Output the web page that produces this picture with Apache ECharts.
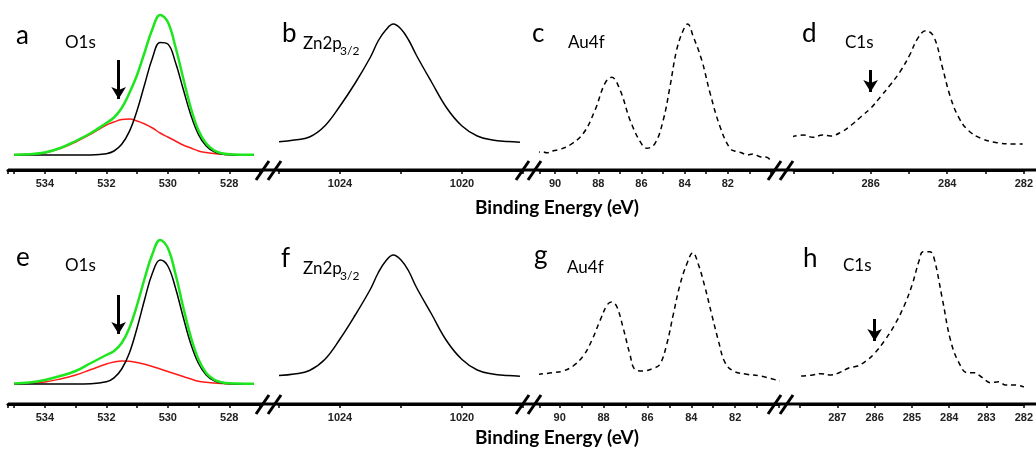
<!DOCTYPE html>
<html>
<head>
<meta charset="utf-8">
<script src="https://cdn.jsdelivr.net/npm/echarts@6/dist/echarts.min.js"></script>
<style>
  html, body { margin: 0; padding: 0; background: #fff; }
  #chartmain { width: 1036px; height: 450px; }
</style>
</head>
<body>
<div id="chartmain"></div>
<script>
// O1s (a / e): energies shared by the three curves
var o1sEnergy = [535, 534.5, 534, 533.5, 533, 532.5, 532, 531.75, 531.5, 531.25, 531, 530.75, 530.5, 530.25, 530, 529.75, 529.5, 529.25, 529, 528.75, 528.5, 528.25, 528, 527.2];
var aTotal  = [0.3, 0.8, 2.5, 7, 14, 22, 32, 37.5, 47, 62, 80, 103, 126, 140, 133, 108, 77, 47, 24.4, 11.4, 4.8, 1.8, 0.8, 0.2];
var aLattice = [0, 0, 0, 0, 0, 0.1, 1.3, 4, 10.7, 23.6, 44.5, 71, 97, 112.5, 111, 92.5, 66, 40, 20.4, 8.9, 3.3, 1, 0.3, 0];
var aDefect = [0.3, 0.8, 2, 6.5, 13, 21, 30, 33, 35.5, 36, 34, 31, 27, 22, 18, 14, 10, 7, 4, 2.5, 1.5, 0.8, 0.5, 0.1];
var eTotal  = [0.5, 1.5, 4, 8, 13, 21, 29, 33, 41, 56, 79, 106, 130, 144, 136, 110, 77, 47, 24.5, 11, 4.5, 1.8, 0.7, 0.2];
var eLattice = [0, 0, 0, 0, 0, 0.2, 2.2, 6.2, 15, 31, 56, 85, 111, 124, 118, 96, 67, 40, 20.5, 9, 3.4, 1.1, 0.3, 0];
var eDefect = [0.3, 0.8, 2, 5, 9, 14.5, 20, 22, 23, 22.7, 21.5, 19.7, 17.5, 15, 12.5, 10, 7.5, 5, 2.8, 1.8, 1, 0.5, 0.3, 0];

// Zn2p3/2 (b / f)
var znEnergy = [1026, 1025.5, 1025, 1024.5, 1024, 1023.5, 1023, 1022.75, 1022.5, 1022.25, 1022, 1021.75, 1021.5, 1021, 1020.5, 1020, 1019.5, 1019, 1018.5, 1018.1];
var bCounts = [1.3, 3, 6, 17, 37, 60, 86, 102, 113, 119, 114, 103, 88, 61, 35, 17, 7, 3, 1.5, 0.8];
var fCounts = [1.5, 3, 6.5, 17.5, 38, 62, 88, 104, 116, 122, 117, 106, 90, 63, 36, 17.5, 7, 3, 1.5, 0.8];

// Au4f (c / g)
var cEnergy = [90.93, 90.62, 90.38, 90.08, 89.77, 89.31, 88.69, 88.15, 87.69, 87.38, 86.99, 86.53, 86.06, 85.75, 85.37, 84.99, 84.68, 84.37, 84.06, 83.86, 83.6, 83.21, 82.82, 82.36, 81.9, 81.59, 81.36, 81.13, 80.82, 80.51, 80.2, 79.97];
var cCounts = [16.7, 18.3, 17.3, 19.3, 20.7, 25, 36.7, 60, 86.7, 92.7, 80, 50, 28.3, 21.7, 26.7, 50, 83.3, 120, 140, 146, 133.3, 110, 76.7, 43.3, 21.7, 18.3, 17.3, 15, 16, 13.3, 12.7, 8.3];
var gEnergy = [90.99, 90.31, 89.85, 89.39, 88.93, 88.55, 88.17, 87.84, 87.64, 87.41, 87.11, 86.8, 86.57, 86.19, 85.73, 85.43, 85.12, 84.82, 84.51, 84.21, 83.93, 83.68, 83.37, 83.07, 82.76, 82.46, 82.08, 81.47, 80.86, 79.97];
var gCounts = [29.7, 31.3, 33, 38, 48, 63, 83, 99, 102, 98, 76.3, 49.7, 34.7, 33, 35.7, 39.7, 59.7, 89.7, 119.7, 139.7, 151.3, 139.7, 116.3, 89.7, 63, 41.3, 33, 29.7, 28, 23];

// C1s (d / h)
var dEnergy = [288.06, 287.76, 287.51, 287.26, 287.05, 286.75, 286.5, 286.25, 286.0, 285.74, 285.49, 285.23, 284.98, 284.77, 284.56, 284.35, 284.13, 283.92, 283.71, 283.46, 283.12, 282.7, 282.28, 282.03];
var dCounts = [33.3, 35, 32.7, 35, 34, 38.3, 45, 53.3, 61.7, 73.3, 85, 98.3, 115, 131.7, 139.3, 133.3, 103.3, 73.3, 53.3, 40, 31.7, 27.3, 26, 26];
var hEnergy = [287.97, 287.66, 287.44, 287.17, 286.95, 286.68, 286.46, 286.23, 286.01, 285.74, 285.48, 285.21, 284.99, 284.81, 284.7, 284.52, 284.41, 284.19, 283.96, 283.74, 283.52, 283.34, 283.11, 282.89, 282.67, 282.49, 282.22, 282.0];
var hCounts = [28, 29, 30.3, 29, 31.3, 36.3, 38, 43, 50.3, 63, 78, 98, 119.7, 143, 152.3, 152.3, 146.3, 106.3, 63, 41.3, 31.3, 31.3, 26.3, 21.3, 22.3, 19, 19, 17];

// arrows: [energy, from, to]
var arrowA = [531.6, 95, 56];
var arrowD = [286, 100, 78];
var arrowE = [531.6, 89, 50];
var arrowH = [286, 85, 63];

function pairs(xs, ys) {
	var out = [];
	for (var i = 0; i < xs.length; i++) {
		out.push([xs[i], ys[i]]);
	}
	return out;
}

var tickFont = { fontFamily: 'Liberation Sans', fontWeight: 'bold', fontSize: 11, color: '#222' };

// one grid per panel (hide = end value that carries no label)
var panels = [
	{ left: 8,   top: 8,   width: 252, min: 527,  max: 535.2, step: 1, label: 2, hide: null, yMin: -15, yMax: 147 },
	{ left: 279, top: 8,   width: 244, min: 1018, max: 1026,  step: 2, label: 4, hide: null, yMin: -27, yMax: 135 },
	{ left: 540, top: 8,   width: 231, min: 80,   max: 90.7,  step: 1, label: 2, hide: 80,   yMin: 0,   yMax: 162 },
	{ left: 794, top: 8,   width: 237, min: 282,  max: 288,   step: 1, label: 2, hide: 288,  yMin: 0,   yMax: 162 },
	{ left: 8,   top: 242, width: 252, min: 527,  max: 535.2, step: 1, label: 2, hide: null, yMin: -20, yMax: 142 },
	{ left: 279, top: 242, width: 244, min: 1018, max: 1026,  step: 2, label: 4, hide: null, yMin: -27, yMax: 135 },
	{ left: 540, top: 242, width: 239, min: 80,   max: 90.9,  step: 1, label: 2, hide: 80,   yMin: 0,   yMax: 162 },
	{ left: 800, top: 242, width: 225, min: 282,  max: 288,   step: 1, label: 1, hide: 288,  yMin: 0,   yMax: 162 }
];

var grid = [], xAxis = [], yAxis = [];
panels.forEach(function(p, i) {
	grid.push({ left: p.left, top: p.top, width: p.width, height: 162 });
	xAxis.push({
		type: 'value', gridIndex: i, inverse: true,
		min: p.min, max: p.max, interval: p.step,
		splitLine: { show: false },
		axisLine: { show: true, onZero: false, lineStyle: { color: '#000', width: 3 } },
		axisTick: { show: true, length: 4, lineStyle: { color: '#000', width: 1.5 } },
		axisLabel: Object.assign({
			margin: 8,
			showMinLabel: true, showMaxLabel: true,
			formatter: (function(lbl, hide) {
				return function(v) {
					if (Math.abs(v - Math.round(v)) > 1e-6) return '';
					var r = Math.round(v);
					if (r === hide) return '';
					return (r % lbl === 0) ? String(r) : '';
				};
			})(p.label, p.hide)
		}, tickFont)
	});
	yAxis.push({ type: 'value', gridIndex: i, min: p.yMin, max: p.yMax, show: false, splitLine: { show: false } });
});

function line(idx, data, color, width, dashed, arrow) {
	var s = {
		type: 'line', xAxisIndex: idx, yAxisIndex: idx,
		data: data, showSymbol: false, smooth: 0.4, clip: false, silent: true,
		lineStyle: { color: color, width: width, type: dashed ? [5, 4] : 'solid' }
	};
	if (arrow) {
		s.markLine = {
			silent: true, animation: false,
			symbol: ['none', 'arrow'], symbolSize: [11, 12],
			label: { show: false },
			lineStyle: { color: '#000', width: 3, type: 'solid' },
			data: [[{ coord: [arrow[0], arrow[1]] }, { coord: [arrow[0], arrow[2]] }]]
		};
	}
	return s;
}

var GREEN = '#1ee61e', RED = '#ff1a1a', BLACK = '#000';
var series = [
	line(0, pairs(o1sEnergy, aDefect), RED, 1.5),
	line(0, pairs(o1sEnergy, aLattice), BLACK, 1.5),
	line(0, pairs(o1sEnergy, aTotal), GREEN, 2.5, false, arrowA),
	line(1, pairs(znEnergy, bCounts), BLACK, 1.5),
	line(2, pairs(cEnergy, cCounts), BLACK, 1.5, true),
	line(3, pairs(dEnergy, dCounts), BLACK, 1.5, true, arrowD),
	line(4, pairs(o1sEnergy, eDefect), RED, 1.5),
	line(4, pairs(o1sEnergy, eLattice), BLACK, 1.5),
	line(4, pairs(o1sEnergy, eTotal), GREEN, 2.5, false, arrowE),
	line(5, pairs(znEnergy, fCounts), BLACK, 1.5),
	line(6, pairs(gEnergy, gCounts), BLACK, 1.5, true),
	line(7, pairs(hEnergy, hCounts), BLACK, 1.5, true, arrowH)
];

// decorations: continuous axis, break marks, texts
var graphic = [];
[170, 404].forEach(function(y) {
	graphic.push({ type: 'line', shape: { x1: 8, y1: y, x2: 1036, y2: y }, style: { stroke: '#000', lineWidth: 3 }, z: 1 });
	[256, 516, 768].forEach(function(x) {
		graphic.push({ type: 'line', shape: { x1: x, y1: y + 10, x2: x + 13, y2: y - 9 }, style: { stroke: '#000', lineWidth: 3 }, z: 10 });
		graphic.push({ type: 'line', shape: { x1: x + 12, y1: y + 10, x2: x + 25, y2: y - 9 }, style: { stroke: '#000', lineWidth: 3 }, z: 10 });
	});
});

function txt(x, y, s, size, weight) {
	return { type: 'text', x: x, y: y, z: 20,
		style: { text: s, fontFamily: 'Lato', fontSize: size, fontWeight: weight || 'normal', fill: '#000', textAlign: 'left', textVerticalAlign: 'bottom' } };
}
var letters = [['a', 16, 49], ['b', 282, 47], ['c', 532, 47], ['d', 802, 47], ['e', 16, 271], ['f', 281, 272], ['g', 534, 269], ['h', 803, 272]];
letters.forEach(function(l) { graphic.push(txt(l[1], l[2], l[0], 26)); });
var names = [['O1s', 65, 51], ['Zn2p', 303, 52], ['Au4f', 568, 51], ['C1s', 845, 51],
	['O1s', 65, 274], ['Zn2p', 303, 277], ['Au4f', 567, 276], ['C1s', 843, 274]];
names.forEach(function(n) { graphic.push(txt(n[1], n[2], n[0], 17)); });
graphic.push(txt(340, 57, '3/2', 12));
graphic.push(txt(340, 282, '3/2', 12));
[208, 438].forEach(function(y) {
	graphic.push({ type: 'text', x: 557, y: y, z: 20,
		style: { text: 'Binding Energy (eV)', fontFamily: 'Lato', fontSize: 19, fontWeight: 'bold', fill: '#000', textAlign: 'center', textVerticalAlign: 'middle' } });
});

var option = {
	backgroundColor: '#fff',
	animation: false,
	grid: grid,
	xAxis: xAxis,
	yAxis: yAxis,
	series: series,
	graphic: graphic
};
var myChart = echarts.init(document.getElementById('chartmain'));
myChart.setOption(option);
</script>
</body>
</html>
